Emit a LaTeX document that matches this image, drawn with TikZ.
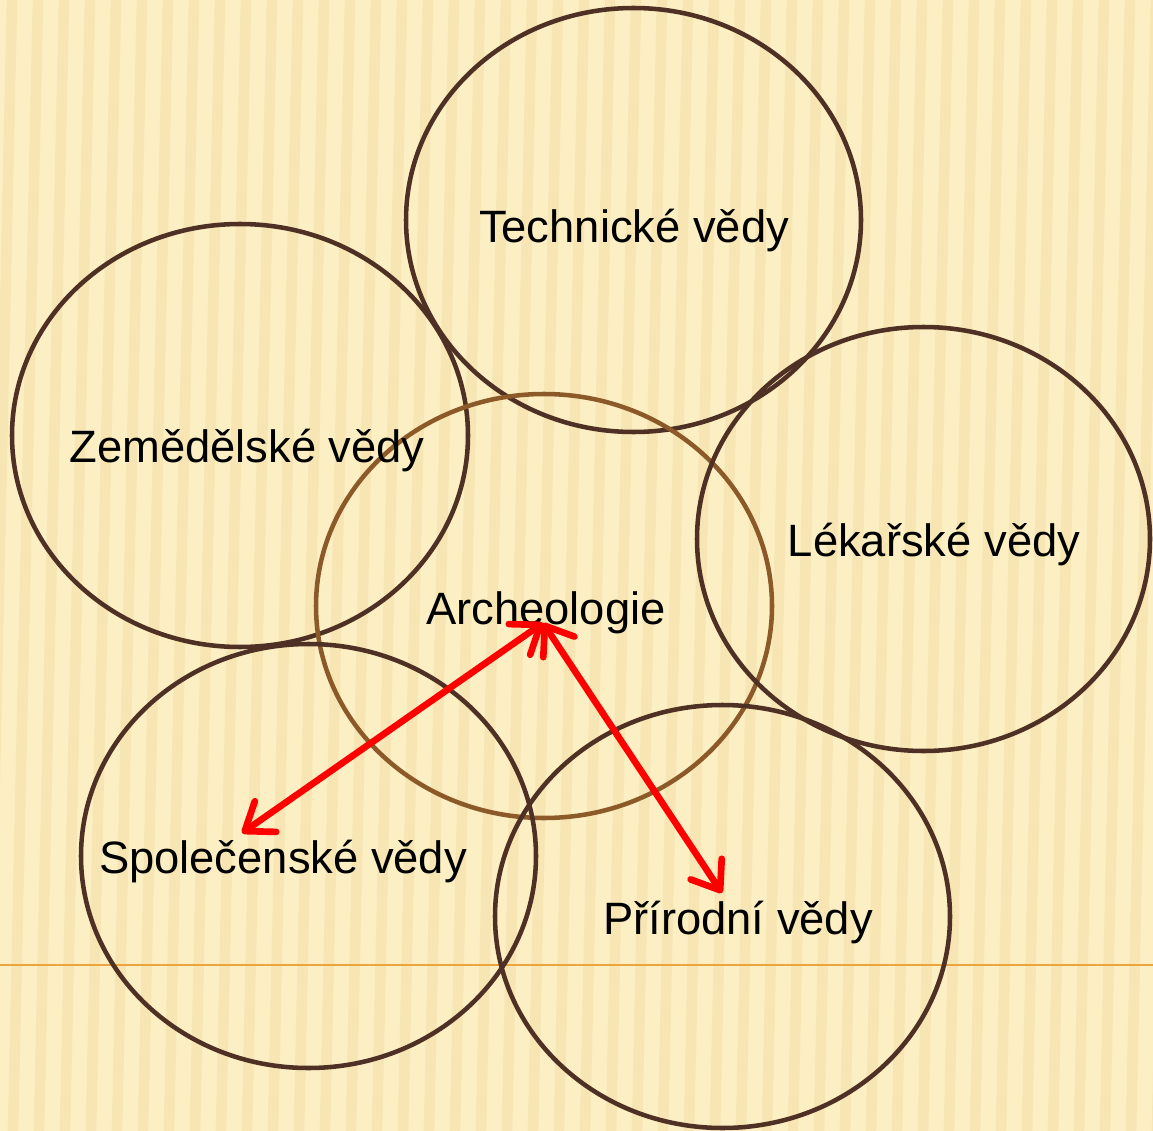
\documentclass[tikz,border=0pt]{standalone}
\usepackage{fontspec}
\setmainfont{Liberation Sans}
\usetikzlibrary{arrows.meta}

\definecolor{bgyellow}{RGB}{252,239,196}
\definecolor{stripe}{RGB}{236,212,140}
\definecolor{ringbrown}{RGB}{78,48,36}
\definecolor{archbrown}{RGB}{140,90,40}
\definecolor{ruleorange}{RGB}{236,164,60}

\begin{document}
\begin{tikzpicture}[x=0.75pt,y=0.75pt,yscale=-1,xscale=1,
  ring/.style={draw=ringbrown,line width=3.4pt},
  field/.style={font=\fontsize{34}{40}\selectfont,inner sep=0pt},
  link/.style={draw=red,line width=5pt,line cap=round,<->},
  >={Straight Barb[round,length=19pt,width=28pt]}]
%set diagram to the size of the slide part
\useasboundingbox (0,0) rectangle (1153,1131);
\fill [bgyellow] (0,0) rectangle (1153,1131);
\foreach \x in {-40,-14,...,1190}
  \draw [stripe,line width=8pt,opacity=0.3] (\x,0) -- (\x-25,1131);

%Straight Lines [id:rule]
\draw [ruleorange,line width=1.5pt] (0,965) -- (1153,965);

%Shape: Ellipse [id:technicke]
\draw [ring] (633.5,220) ellipse (227.5 and 212);
%Shape: Ellipse [id:zemedelske]
\draw [ring] (240,435.5) ellipse (228 and 211.5);
%Shape: Ellipse [id:archeologie]
\draw [ring,draw=archbrown] (544,606) ellipse (228 and 212);
%Shape: Ellipse [id:lekarske]
\draw [ring] (923.5,539) ellipse (226.5 and 212);
%Shape: Ellipse [id:spolecenske]
\draw [ring] (308.5,856) ellipse (227.5 and 212);
%Shape: Ellipse [id:prirodni]
\draw [ring] (722.5,916.5) ellipse (227.5 and 211.5);

% Text Node
\node [field] (tech) at (634,231) {Technické vědy};
% Text Node
\node [field] (zem) at (247,451) {Zemědělské vědy};
% Text Node
\node [field] (lek) at (934,545) {Lékařské vědy};
% Text Node
\node [field] (arch) at (546,613) {Archeologie};
% Text Node
\node [field] (spol) at (283,862) {Společenské vědy};
% Text Node
\node [field] (prir) at (738,923) {Přírodní vědy};

%Arrows between the fields
\coordinate (archtip) at (543,623);
\coordinate (spoltip) at (242,833);
\coordinate (prirtip) at (722,893);
\draw [link] (archtip) -- (spoltip);
\draw [link] (archtip) -- (prirtip);

\end{tikzpicture}
\end{document}
